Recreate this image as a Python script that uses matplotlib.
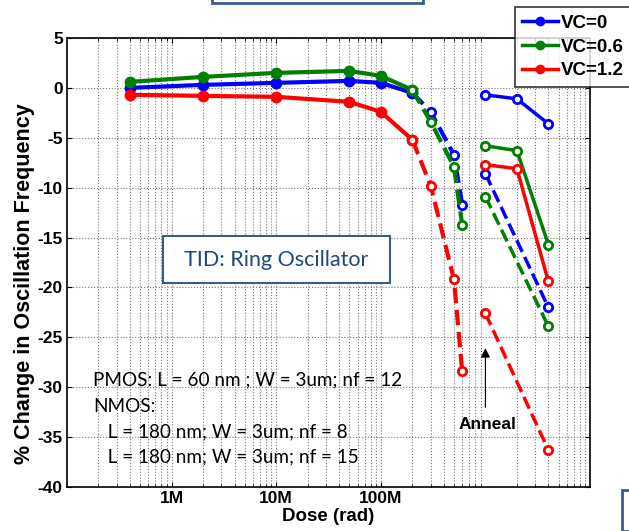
import matplotlib.pyplot as plt
from matplotlib.patches import Rectangle
from matplotlib.lines import Line2D

# dose (rad) and % change in frequency
dose_pre = [4e5, 2e6, 1e7, 5e7, 1e8, 2e8]
dose_post = [2e8, 3e8, 5e8, 6e8]
dose_anneal = [1e9, 2e9, 4e9]
dose_anneal_dash = [1e9, 4e9]

vc0_pre = [0.0, 0.3, 0.5, 0.7, 0.5, -0.5]
vc06_pre = [0.6, 1.1, 1.5, 1.7, 1.2, -0.2]
vc12_pre = [-0.7, -0.8, -0.9, -1.4, -2.4, -5.2]

vc0_post = [-0.5, -2.4, -6.7, -11.7]
vc06_post = [-0.2, -3.4, -7.9, -13.7]
vc12_post = [-5.2, -9.8, -19.2, -28.4]

vc0_anneal = [-0.7, -1.1, -3.6]
vc06_anneal = [-5.8, -6.3, -15.7]
vc12_anneal = [-7.7, -8.1, -19.4]

vc0_anneal_dash = [-8.6, -22.0]
vc06_anneal_dash = [-10.9, -23.9]
vc12_anneal_dash = [-22.6, -36.3]

labels = ['VC=0', 'VC=0.6', 'VC=1.2']
colors = ['#0000ff', '#008000', '#ff0000']

plt.rcParams['axes.unicode_minus'] = False

fig = plt.figure(figsize=(6.29, 5.31), dpi=100)
ax = fig.add_axes([0.1065, 0.0829, 0.8315, 0.8456])

series = [
    (vc0_pre, vc0_post, vc0_anneal, vc0_anneal_dash),
    (vc06_pre, vc06_post, vc06_anneal, vc06_anneal_dash),
    (vc12_pre, vc12_post, vc12_anneal, vc12_anneal_dash),
]
for (pre, post, ann, ann_d), c in zip(series, colors):
    ax.plot(dose_pre, pre, '-', color=c, lw=3, marker='o', ms=7, mfc=c, mec=c, mew=1.5)
    ax.plot(dose_post, post, '--', color=c, lw=3, marker='o', ms=6, mfc='white', mec=c, mew=2)
    ax.plot(dose_anneal, ann, '-', color=c, lw=2.5, marker='o', ms=6, mfc='white', mec=c, mew=2)
    ax.plot(dose_anneal_dash, ann_d, '--', color=c, lw=2.5, marker='o', ms=6, mfc='white', mec=c, mew=2)

ax.set_xscale('log')
ax.set_xlim(1e5, 1e10)
ax.set_ylim(-40, 5)
ax.set_yticks(range(-40, 6, 5))
ax.set_xticks([1e6, 1e7, 1e8])
ax.set_xticklabels(['1M', '10M', '100M'])
ax.grid(True, which='both', axis='x', linestyle=':', color='#777777', lw=0.8)
ax.grid(True, which='major', axis='y', linestyle=':', color='#777777', lw=0.8)
ax.tick_params(which='both', direction='in', top=True, right=True, labelsize=12.5, pad=3)
for lab in ax.get_xticklabels() + ax.get_yticklabels():
    lab.set_fontweight('bold')
    lab.set_family('Liberation Sans')
for s in ax.spines.values():
    s.set_linewidth(1.2)

ax.set_xlabel('Dose (rad)', fontsize=13.5, fontweight='bold', family='Liberation Sans', labelpad=1)
ax.set_ylabel('% Change in Oscillation Frequency', fontsize=15.5, fontweight='bold',
              family='Liberation Sans')
ax.yaxis.set_label_coords(-0.062, 0.454)

# text boxes
fig.patches.append(Rectangle((163 / 629, 1 - 283 / 531), 227 / 629, 47 / 531,
                             transform=fig.transFigure, fc='white', ec='#385D8A', lw=1.5))
fig.text(276 / 629, 1 - 260 / 531, 'TID: Ring Oscillator', fontsize=15.5, color='#1F497D',
         family='Lato', ha='center', va='center')
notes = ['PMOS: L = 60 nm ; W = 3um; nf = 12', 'NMOS:',
         '   L = 180 nm; W = 3um; nf = 8', '   L = 180 nm; W = 3um; nf = 15']
note_y = [380, 406, 432, 457]
for t, yy in zip(notes, note_y):
    fig.text(93 / 629, 1 - yy / 531, t, fontsize=13.6, family='Lato', va='center')

ax.annotate('', xy=(1e9, -25.8), xytext=(1e9, -32.3),
            arrowprops=dict(arrowstyle='-|>', color='black', lw=0.8, mutation_scale=14))
ax.text(1.05e9, -33.7, 'Anneal', fontsize=12.5, fontweight='bold', family='Liberation Sans',
        ha='center', va='center')

# partially visible boxes from the slide
fig.patches.append(Rectangle((212 / 629, 1 - 3 / 531), 211 / 629, 0.05, transform=fig.transFigure,
                             fc='white', ec='#385D8A', lw=2))
fig.patches.append(Rectangle((622 / 629, 0), 0.05, 41 / 531, transform=fig.transFigure,
                             fc='white', ec='#385D8A', lw=2))

handles = [Line2D([], [], color=c, lw=2.5, marker='o', ms=6) for c in colors]
leg = fig.legend(handles, labels, loc='upper left', bbox_to_anchor=(0.818, 0.986),
                 prop=dict(family='Liberation Sans', weight='bold', size=13.5),
                 frameon=True, fancybox=False, edgecolor='black', borderpad=0.4,
                 handlelength=1.9, handletextpad=0.15, labelspacing=0.35, borderaxespad=0)
leg.get_frame().set_linewidth(1.2)

fig.savefig('out.png', dpi=100)
